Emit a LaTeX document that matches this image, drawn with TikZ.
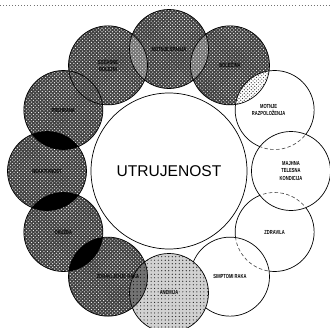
\documentclass[tikz,border=0pt]{standalone}
\usepackage{fontspec}
\setmainfont{Liberation Sans}
\usetikzlibrary{patterns,calc}

\tikzset{
  krog/.style={draw=black, line width=0.6pt},
  skrito/.style={densely dashed, line width=0.5pt, black!75},
  oznaka/.style={font=\fontsize{5}{6}\selectfont\bfseries, align=center, xscale=0.7, inner sep=0pt},
}

\begin{document}
\begin{tikzpicture}[x=0.03cm,y=0.03cm]
        \useasboundingbox (-169,-156) rectangle (161,171);
        % sredisca manjsih krogov
        \foreach \i in {0,...,11}
            \coordinate (c\i) at (\i*30:122);
        % pikcasta crta zgoraj
        \draw[black!55, dotted, line width=0.6pt] (-169,166) -- (161,166);

        % temni krogi
        \foreach \i in {2,...,8} {
            \fill[black!74] (c\i) circle (39.5);
            \fill[pattern=crosshatch dots, pattern color=white] (c\i) circle (39.5);
        }
        % crni preseki
        \foreach \i/\j in {5/6, 6/7, 7/8} {
            \begin{scope}
                \clip (c\i) circle (39.5);
                \fill[black] (c\j) circle (39.5);
            \end{scope}
        }
        % svetlejsi preseki
        \foreach \i/\j in {2/3, 3/4} {
            \begin{scope}
                \clip (c\i) circle (39.5);
                \fill[black!55] (c\j) circle (39.5);
                \fill[pattern=crosshatch dots, pattern color=white] (c\j) circle (39.5);
            \end{scope}
        }
        \foreach \i in {2,...,8}
            \draw[krog] (c\i) circle (39.5);

        % svetli krogi
        \foreach \i in {1,11,0,10}
            \draw[krog, fill=white] (c\i) circle (39.5);
        % presek motnje razpolozenja / bolecina
        \begin{scope}
            \clip (c1) circle (39.5);
            \fill[pattern=crosshatch dots, pattern color=black!80] (c2) circle (39.5);
            \draw[krog] (c2) circle (39.5);
        \end{scope}
        % prekrite meje
        \begin{scope}
            \clip (c0) circle (39.2);
            \draw[skrito] (c1) circle (39.5);
            \draw[skrito] (c11) circle (39.5);
        \end{scope}
        \begin{scope}
            \clip (c10) circle (39.2);
            \draw[skrito] (c11) circle (39.5);
        \end{scope}

        % anemija
        \fill[black!18] (c9) circle (39.5);
        \fill[pattern=dots, pattern color=black!90] (c9) circle (39.5);
        \begin{scope}
            \clip (c9) circle (39.5);
            \fill[black!55] (c8) circle (39.5);
            \fill[pattern=dots, pattern color=black] (c8) circle (39.5);
            \draw[krog] (c8) circle (39.5);
        \end{scope}
        \draw[krog] (c9) circle (39.5);

        % osrednji krog
        \node (utr) [circle, draw, line width=0.6pt, fill=white, minimum size=4.68cm, inner sep=0pt,
            font=\fontsize{13.3}{15}\selectfont] at (0,0) {UTRUJENOST};

        % oznake
        \node[oznaka] (majhna) at (c0) {MAJHNA\\TELESNA\\KONDICIJA};
        \node[oznaka] (motnje) at ($(c1)+(-6,0)$) {MOTNJE\\RAZPOLOŽENJA};
        \node[oznaka] (bolecina) at (c2) {BOLEČINA};
        \node[oznaka] (spanje) at (c3) {MOTNJE SPANJA};
        \node[oznaka] (socasne) at (c4) {SOČASNE\\BOLEZNI};
        \node[oznaka] (prehrana) at (c5) {PREHRANA};
        \node[oznaka] (neaktivnost) at (c6) {NEAKTIVNOST};
        \node[oznaka] (okuzba) at (c7) {OKUŽBA};
        \node[oznaka] (zdravljenje) at ($(c8)+(10,0)$) {ZDRAVLJENJE RAKA};
        \node[oznaka] (anemija) at (c9) {ANEMIJA};
        \node[oznaka] (simptomi) at (c10) {SIMPTOMI RAKA};
        \node[oznaka] (zdravila) at (c11) {ZDRAVILA};
\end{tikzpicture}
\end{document}
